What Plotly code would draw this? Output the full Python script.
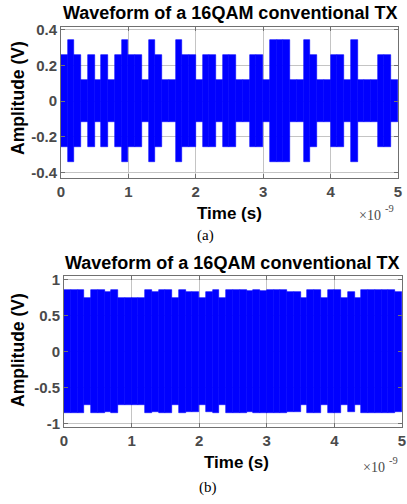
import plotly.graph_objects as go

# ---------------- data ----------------
symbol_time_ns = [0.0, 0.1, 0.2, 0.3, 0.4, 0.5, 0.6, 0.7, 0.8, 0.9,
                  1.0, 1.1, 1.2, 1.3, 1.4, 1.5, 1.6, 1.7, 1.8, 1.9,
                  2.0, 2.1, 2.2, 2.3, 2.4, 2.5, 2.6, 2.7, 2.8, 2.9,
                  3.0, 3.1, 3.2, 3.3, 3.4, 3.5, 3.6, 3.7, 3.8, 3.9,
                  4.0, 4.1, 4.2, 4.3, 4.4, 4.5, 4.6, 4.7, 4.8, 4.9]
symbol_width_ns = 0.1

# (a) envelope amplitude (V) of each 16QAM symbol
envelope_a = [0.258, 0.342, 0.258, 0.118, 0.258, 0.118, 0.258, 0.118, 0.258, 0.342,
              0.258, 0.258, 0.118, 0.342, 0.258, 0.118, 0.118, 0.342, 0.258, 0.258,
              0.118, 0.258, 0.258, 0.118, 0.258, 0.258, 0.118, 0.118, 0.258, 0.258,
              0.118, 0.342, 0.342, 0.342, 0.118, 0.118, 0.342, 0.258, 0.118, 0.118,
              0.258, 0.258, 0.118, 0.342, 0.118, 0.118, 0.118, 0.258, 0.258, 0.118]

# (b) envelope amplitude (V)
envelope_b = [0.855, 0.855, 0.855, 0.740, 0.855, 0.855, 0.835, 0.855, 0.740, 0.740,
              0.740, 0.740, 0.855, 0.835, 0.855, 0.855, 0.740, 0.855, 0.835, 0.835,
              0.740, 0.835, 0.855, 0.740, 0.855, 0.855, 0.855, 0.840, 0.855, 0.845,
              0.855, 0.855, 0.855, 0.835, 0.835, 0.740, 0.855, 0.855, 0.740, 0.855,
              0.855, 0.740, 0.835, 0.740, 0.855, 0.855, 0.855, 0.855, 0.855, 0.835]

yticks_a = [-0.4, -0.2, 0, 0.2, 0.4]
yticklabels_a = ["-0.4", "-0.2", "0", "0.2", "0.4"]
yticks_b = [-1, -0.5, 0, 0.5, 1]
yticklabels_b = ["-1", "-0.5", "0", "0.5", "1"]
xticks = [0, 1, 2, 3, 4, 5]
xticklabels = ["0", "1", "2", "3", "4", "5"]

title_text = "Waveform of a 16QAM conventional TX"

# ---------------- figure ----------------
W, H = 407, 504
BLUE = "#0000ff"
AXC = "#707070"
TICKC = "#4a4a4a"
GRIDC = "#c4c4c4"
SANS = "Liberation Sans, Arial, Helvetica"
SERIF = "Liberation Serif, Times New Roman, serif"

fig = go.Figure()

def add_env(env, xa, ya):
    centers = [t + symbol_width_ns / 2 for t in symbol_time_ns]
    fig.add_trace(go.Bar(
        x=centers, y=[2 * v for v in env], base=[-v for v in env],
        width=symbol_width_ns, marker=dict(color=BLUE, line=dict(width=0.6, color=BLUE)),
        xaxis=xa, yaxis=ya, showlegend=False, hoverinfo="skip"))

add_env(envelope_a, "x", "y")
add_env(envelope_b, "x2", "y2")

def px_x(p):
    return p / W

def px_y(p):
    return 1 - p / H

def b(lbls):
    return ["<b>" + s + "</b>" for s in lbls]

tickfont = dict(family=SANS, size=15, color=TICKC)
common_x = dict(range=[0, 5.0005], tickvals=xticks, ticktext=b(xticklabels), showgrid=True,
                gridcolor=GRIDC, gridwidth=1, zeroline=False, ticks="inside", ticklen=4,
                tickcolor=AXC, showline=True, linecolor=AXC, linewidth=1, mirror="ticks",
                tickfont=tickfont, automargin=False, ticklabeloverflow="allow")
common_y = dict(showgrid=True, gridcolor=GRIDC, gridwidth=1, zeroline=False, ticks="inside",
                ticklen=4, tickcolor=AXC, showline=True, linecolor=AXC, linewidth=1,
                mirror="ticks", tickfont=tickfont, automargin=False, ticklabeloverflow="allow")

fig.update_layout(
    template="none",
    width=W, height=H, margin=dict(l=0, r=0, t=0, b=0, autoexpand=False),
    paper_bgcolor="white", plot_bgcolor="white", bargap=0, barmode="overlay",
    xaxis=dict(domain=[px_x(61), px_x(398)], anchor="y", **common_x),
    yaxis=dict(domain=[px_y(178), px_y(27)], anchor="x", range=[-0.43, 0.414],
               tickvals=yticks_a, ticktext=b(yticklabels_a), **common_y),
    xaxis2=dict(domain=[px_x(64), px_x(402)], anchor="y2", **common_x),
    yaxis2=dict(domain=[px_y(427), px_y(276)], anchor="x2", range=[-1.044, 1.05],
                tickvals=yticks_b, ticktext=b(yticklabels_b), **common_y),
)

ann = []
def text(x, y, s, size, font, color="black", xanchor="center", angle=0):
    ann.append(dict(x=px_x(x), y=px_y(y), xref="paper", yref="paper", text=s,
                    showarrow=False, xanchor=xanchor, yanchor="middle", textangle=angle,
                    font=dict(family=font, size=size, color=color)))

# subplot (a)
text(230, 13, "<b>" + title_text + "</b>", 18, SANS)
text(18, 98, "<b>Amplitude (V)</b>", 17.5, SANS, angle=-90)
text(229, 213, "<b>Time (s)</b>", 17, SANS)
text(383, 215, "×10", 14, SERIF, color=TICKC, xanchor="right")
text(383, 208, "-9", 10.5, SERIF, color=TICKC, xanchor="left")
text(205, 235, "(a)", 15, SERIF)
# subplot (b)
text(232, 263, "<b>" + title_text + "</b>", 18, SANS)
text(18, 350, "<b>Amplitude (V)</b>", 17.5, SANS, angle=-90)
text(236, 462, "<b>Time (s)</b>", 17, SANS)
text(387, 467, "×10", 14, SERIF, color=TICKC, xanchor="right")
text(387, 460, "-9", 10.5, SERIF, color=TICKC, xanchor="left")
text(208, 487, "(b)", 15, SERIF)

fig.update_layout(annotations=ann)
fig.write_html("out.html",
               config={"displayModeBar": False},
               post_script="document.body.style.margin='0px';"
                           "document.body.style.overflow='hidden';")
